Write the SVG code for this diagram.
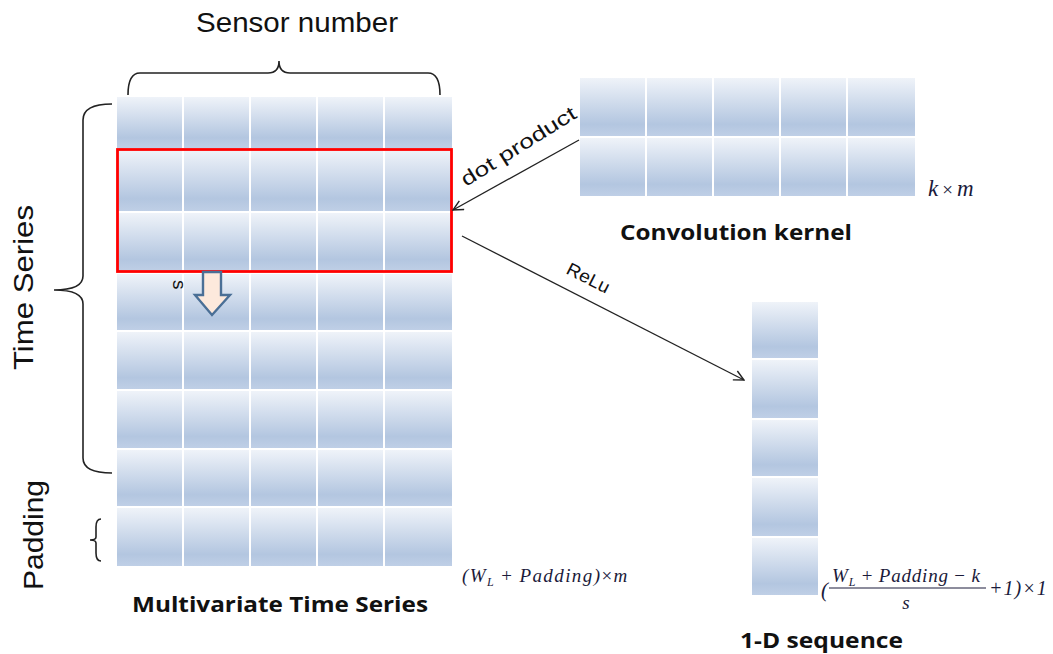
<svg xmlns="http://www.w3.org/2000/svg" width="1053" height="654" viewBox="0 0 1053 654">
<defs>
<linearGradient id="cellg" x1="0" y1="0" x2="0" y2="1">
<stop offset="0" stop-color="#eff3f9"/>
<stop offset="0.8" stop-color="#b3c6e0"/>
<stop offset="1" stop-color="#bfcfe6"/>
</linearGradient>
<marker id="open" viewBox="0 0 12 12" refX="11" refY="6" markerWidth="12" markerHeight="12" markerUnits="userSpaceOnUse" orient="auto">
<path d="M1,1 L11,6 L1,11" fill="none" stroke="#222" stroke-width="1.4"/>
</marker>
<style>
.cell{fill:url(#cellg);}
.lbl{font-family:"Liberation Sans",Arial,sans-serif;fill:#111;}
.bold{font-family:"Open Sans","Liberation Sans",sans-serif;font-weight:bold;fill:#111;}
.math{font-family:"Liberation Serif","Times New Roman",serif;font-style:italic;fill:#1a1a3a;}
.brace{fill:none;stroke:#222;stroke-width:1.6;}
.conn{fill:none;stroke:#222;stroke-width:1.3;}
</style>
</defs>
<rect width="1053" height="654" fill="#fff"/>

<g id="multivariate-grid">
<g id="mts-row1"><rect class="cell" x="117" y="97" width="65" height="51"/><rect class="cell" x="184" y="97" width="65" height="51"/><rect class="cell" x="251" y="97" width="65" height="51"/><rect class="cell" x="318" y="97" width="65" height="51"/><rect class="cell" x="385" y="97" width="67" height="51"/></g>
<g id="mts-row2"><rect class="cell" x="117" y="150" width="65" height="61"/><rect class="cell" x="184" y="150" width="65" height="61"/><rect class="cell" x="251" y="150" width="65" height="61"/><rect class="cell" x="318" y="150" width="65" height="61"/><rect class="cell" x="385" y="150" width="67" height="61"/></g>
<g id="mts-row3"><rect class="cell" x="117" y="213" width="65" height="58"/><rect class="cell" x="184" y="213" width="65" height="58"/><rect class="cell" x="251" y="213" width="65" height="58"/><rect class="cell" x="318" y="213" width="65" height="58"/><rect class="cell" x="385" y="213" width="67" height="58"/></g>
<g id="mts-row4"><rect class="cell" x="117" y="274" width="65" height="56"/><rect class="cell" x="184" y="274" width="65" height="56"/><rect class="cell" x="251" y="274" width="65" height="56"/><rect class="cell" x="318" y="274" width="65" height="56"/><rect class="cell" x="385" y="274" width="67" height="56"/></g>
<g id="mts-row5"><rect class="cell" x="117" y="332" width="65" height="57"/><rect class="cell" x="184" y="332" width="65" height="57"/><rect class="cell" x="251" y="332" width="65" height="57"/><rect class="cell" x="318" y="332" width="65" height="57"/><rect class="cell" x="385" y="332" width="67" height="57"/></g>
<g id="mts-row6"><rect class="cell" x="117" y="391" width="65" height="57"/><rect class="cell" x="184" y="391" width="65" height="57"/><rect class="cell" x="251" y="391" width="65" height="57"/><rect class="cell" x="318" y="391" width="65" height="57"/><rect class="cell" x="385" y="391" width="67" height="57"/></g>
<g id="mts-row7"><rect class="cell" x="117" y="450" width="65" height="56"/><rect class="cell" x="184" y="450" width="65" height="56"/><rect class="cell" x="251" y="450" width="65" height="56"/><rect class="cell" x="318" y="450" width="65" height="56"/><rect class="cell" x="385" y="450" width="67" height="56"/></g>
<g id="mts-row8"><rect class="cell" x="117" y="508" width="65" height="58"/><rect class="cell" x="184" y="508" width="65" height="58"/><rect class="cell" x="251" y="508" width="65" height="58"/><rect class="cell" x="318" y="508" width="65" height="58"/><rect class="cell" x="385" y="508" width="67" height="58"/></g>
<rect id="window" x="117.5" y="149.5" width="334" height="122" fill="none" stroke="#ff0000" stroke-width="2.8"/>
</g>

<g id="stride-arrow">
<path d="M203,272 H221 V295 H230 L212,315 L195,295 H203 Z" fill="#fde9dc" stroke="#4a6f96" stroke-width="2.4" stroke-linejoin="miter"/>
<text class="lbl" x="0" y="0" font-size="19" transform="translate(173,280) rotate(90)">s</text>
</g>

<g id="kernel">
<rect class="cell" x="580" y="78" width="65" height="58"/><rect class="cell" x="647" y="78" width="65" height="58"/><rect class="cell" x="714" y="78" width="65" height="58"/><rect class="cell" x="781" y="78" width="65" height="58"/><rect class="cell" x="848" y="78" width="67" height="58"/>
<rect class="cell" x="580" y="138" width="65" height="58"/><rect class="cell" x="647" y="138" width="65" height="58"/><rect class="cell" x="714" y="138" width="65" height="58"/><rect class="cell" x="781" y="138" width="65" height="58"/><rect class="cell" x="848" y="138" width="67" height="58"/>
<text class="math" x="928" y="196" font-size="23">k<tspan font-style="normal" font-size="19" dx="4">×</tspan><tspan dx="4">m</tspan></text>
<text class="bold" x="620" y="240" font-size="22" textLength="232" lengthAdjust="spacingAndGlyphs">Convolution kernel</text>
</g>

<g id="sequence">
<rect class="cell" x="752" y="302" width="66" height="56"/>
<rect class="cell" x="752" y="360" width="66" height="58"/>
<rect class="cell" x="752" y="420" width="66" height="56"/>
<rect class="cell" x="752" y="478" width="66" height="58"/>
<rect class="cell" x="752" y="538" width="66" height="57"/>
<text class="bold" x="740" y="648" font-size="22" textLength="163" lengthAdjust="spacingAndGlyphs">1-D sequence</text>
</g>

<g id="braces">
<path class="brace" d="M128,95 Q128,73 140,73 H268 Q279,73 279,61 Q279,73 290,73 H428 Q440,73 440,95"/>
<path class="brace" d="M112,104 Q83,104 83,120 V276 Q83,290 54,290 Q83,290 83,304 V458 Q83,473 112,473"/>
<path class="brace" d="M101,519 Q96,519 96,527 V537 Q96,540 90,540 Q96,540 96,543 V553 Q96,561 101,561"/>
</g>

<g id="connectors">
<line class="conn" x1="579" y1="140" x2="453" y2="210" marker-end="url(#open)"/>
<line class="conn" x1="462" y1="236" x2="744" y2="380" marker-end="url(#open)"/>
<text class="lbl" font-size="20" textLength="132" lengthAdjust="spacingAndGlyphs" transform="translate(466,187) rotate(-32)">dot product</text>
<text class="lbl" font-size="18" textLength="46" lengthAdjust="spacingAndGlyphs" transform="translate(565,273) rotate(27)">ReLu</text>
</g>

<g id="labels">
<text class="lbl" x="196" y="32" font-size="27" textLength="202" lengthAdjust="spacingAndGlyphs">Sensor number</text>
<text class="lbl" font-size="27" textLength="165" lengthAdjust="spacingAndGlyphs" transform="translate(33,370) rotate(-90)">Time  Series</text>
<text class="lbl" font-size="27" textLength="110" lengthAdjust="spacingAndGlyphs" transform="translate(43,590) rotate(-90)">Padding</text>
<text class="bold" x="132" y="612" font-size="22" textLength="296" lengthAdjust="spacingAndGlyphs">Multivariate Time Series</text>
<text class="math" x="462" y="582" font-size="19" letter-spacing="1.4">(W<tspan font-size="12" dy="4">L</tspan><tspan dy="-4" font-style="normal"> + </tspan>Padding)<tspan font-style="normal">×</tspan>m</text>
<text class="math" x="821" y="597" font-size="21" font-style="normal">(</text>
<text class="math" x="832" y="582" font-size="19" letter-spacing="0.8">W<tspan font-size="12" dy="4">L</tspan><tspan dy="-4" font-style="normal"> + </tspan>Padding<tspan font-style="normal"> − </tspan>k</text>
<line x1="829" y1="588" x2="986" y2="588" stroke="#1a1a3a" stroke-width="1"/>
<text class="math" x="906" y="609" font-size="19" text-anchor="middle">s</text>
<text class="math" x="989" y="595" font-size="20" font-style="normal" letter-spacing="1">+1)×1</text>
</g>
</svg>
